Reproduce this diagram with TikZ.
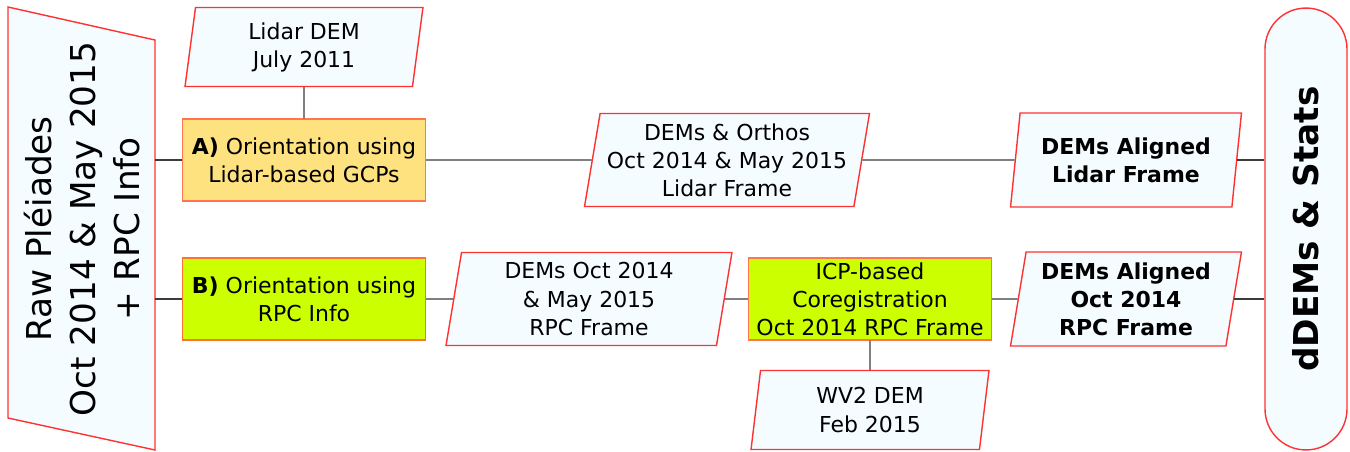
\documentclass[tikz,border=0pt]{standalone}
\usepackage{fontspec}
\setmainfont{DejaVu Sans}
\usetikzlibrary{shapes.geometric}
\definecolor{edgered}{RGB}{255,50,50}
\definecolor{paleblue}{RGB}{244,252,255}
\definecolor{boxorange}{RGB}{255,226,128}
\definecolor{boxlime}{RGB}{204,255,0}
\definecolor{linkgray}{RGB}{60,60,60}

\begin{document}
\begin{tikzpicture}[x=0.02cm,y=-0.02cm,
  every node/.style={font=\fontsize{12.5}{16}\selectfont,align=center,inner sep=0pt},
  data/.style={trapezium,trapezium left angle=78,trapezium right angle=102,
    draw=edgered,fill=paleblue,thick,minimum height=1.58cm,trapezium stretches body},
  proc/.style={rectangle,draw=red!55!orange!70,thick,minimum width=4.86cm,minimum height=1.64cm},
  link/.style={linkgray,semithick}]
\useasboundingbox (0,0) rectangle (1350,451);
% Input and output blocks
\draw[edgered,thick,fill=paleblue] (8,7) -- (155,40) -- (155,450) -- (8,418) -- cycle;
\node[rotate=90,font=\fontsize{19.5}{25}\selectfont] (raw) at (82,229) {Raw Pléiades\\Oct 2014 \& May 2015\\+ RPC Info};
\coordinate (rawA) at (155,160);
\coordinate (rawB) at (155,299);
\node[draw=edgered,fill=paleblue,thick,rounded corners=0.82cm,minimum width=8.84cm,minimum height=1.64cm,
  rotate=90,font=\fontsize{19.5}{25}\selectfont\bfseries] (stats) at (1306,229) {dDEMs \& Stats};
% Top branch
\node[data,minimum width=4.76cm] (lidar) at (304,47) {Lidar DEM\\July 2011};
\node[proc,fill=boxorange] (orA) at (304,160) {\textbf{A)} Orientation using\\Lidar-based GCPs};
\node[data,minimum width=5.7cm,minimum height=1.86cm] (demA) at (727,160) {DEMs \& Orthos\\Oct 2014 \& May 2015\\Lidar Frame};
\node[data,minimum width=4.62cm,minimum height=1.88cm,font=\fontsize{12.5}{16}\selectfont\bfseries] (alA) at (1126,160) {DEMs Aligned\\Lidar Frame};
% Bottom branch
\node[proc,fill=boxlime,draw=orange!60!red!80] (orB) at (304,299) {\textbf{B)} Orientation using\\RPC Info};
\node[data,minimum width=5.72cm,minimum height=1.86cm] (demB) at (589,299) {DEMs Oct 2014\\\& May 2015\\RPC Frame};
\node[proc,fill=boxlime,minimum width=4.86cm] (icp) at (870,299) {ICP-based\\Coregistration\\Oct 2014 RPC Frame};
\node[data,minimum width=4.76cm] (wv) at (870,410) {WV2 DEM\\Feb 2015};
\node[data,minimum width=4.62cm,minimum height=1.88cm,font=\fontsize{12.5}{16}\selectfont\bfseries] (alB) at (1126,299) {DEMs Aligned\\Oct 2014\\RPC Frame};
% Connectors
\draw[link] (rawA) -- (orA.west);
\draw[link] (rawB) -- (orB.west);
\draw[link] (lidar.south) -- (orA.north);
\draw[link] (orA.east) -- (demA.west);
\draw[link] (demA.east) -- (alA.west);
\draw[link] (alA.east) -- (stats.north |- alA.east);
\draw[link] (orB.east) -- (demB.west);
\draw[link] (demB.east) -- (icp.west);
\draw[link] (icp.south) -- (wv.north);
\draw[link] (icp.east) -- (alB.west);
\draw[link] (alB.east) -- (stats.north |- alB.east);
\end{tikzpicture}
\end{document}
